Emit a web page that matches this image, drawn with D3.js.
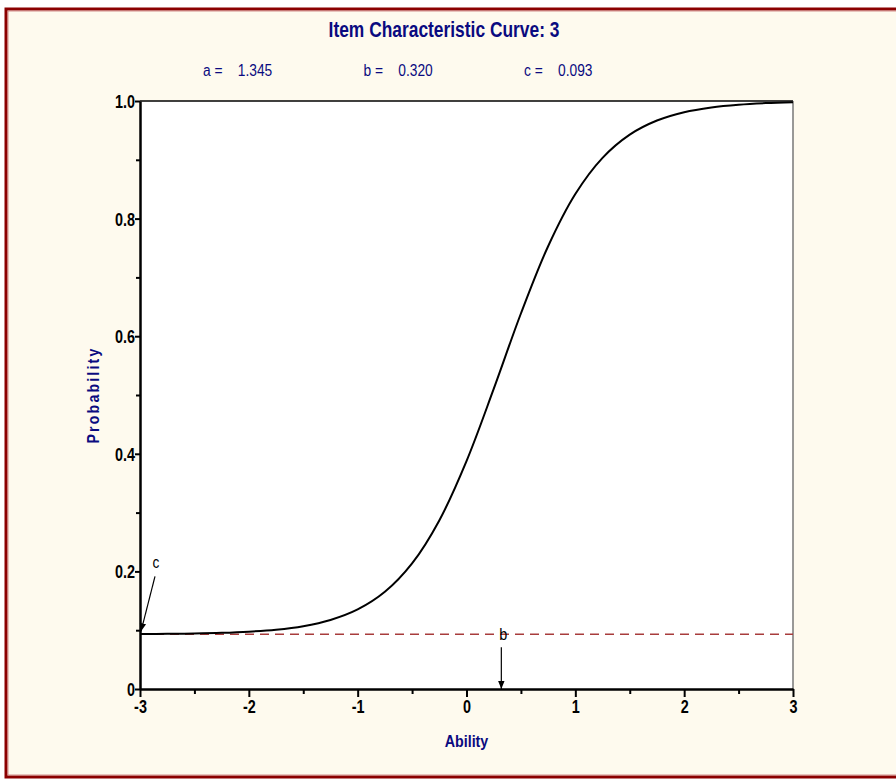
<!DOCTYPE html>
<html>
<head>
<meta charset="utf-8">
<style>
    body { margin: 0; background: #fff; }
    text { font-family: "Liberation Sans Narrow", "Arial Narrow", "Liberation Sans", sans-serif; }
    .tick-label { font-weight: bold; font-size: 18px; fill: #000; }
    .navy { fill: #0a0a80; }
</style>
<script src="https://d3js.org/d3.v7.min.js"></script>
</head>
<body>
<svg width="896" height="780"></svg>
<script>

// item parameters shown in the subtitle
var paramNames = ["a", "b", "c"];
var paramValues = [1.345, 0.320, 0.093];

// ability points and probabilities
var ability = [-3, -2.75, -2.5, -2.25, -2, -1.75, -1.5, -1.25, -1, -0.75, -0.5, -0.25,
               0, 0.25, 0.5, 0.75, 1, 1.25, 1.5, 1.75, 2, 2.25, 2.5, 2.75, 3];
var probability = [0.0935, 0.0938, 0.0944, 0.0955, 0.0975, 0.1009, 0.1069, 0.1174, 0.1353, 0.1653, 0.2136, 0.2867,
                   0.3876, 0.5103, 0.6386, 0.7530, 0.8418, 0.9033, 0.9428, 0.9668, 0.9810, 0.9891, 0.9938, 0.9965, 0.9980];

var xTicks = [-3, -2, -1, 0, 1, 2, 3];
var xMinor = [-2.5, -1.5, -0.5, 0.5, 1.5, 2.5];
var yTicks = [0, 0.2, 0.4, 0.6, 0.8, 1.0];
var yMinor = [0.1, 0.3, 0.5, 0.7, 0.9];
var yTickLabels = ["0", "0.2", "0.4", "0.6", "0.8", "1.0"];

var svg = d3.select("svg");

// no narrow font installed, so squeeze the text to look like one
function narrow(sel, f) {
    sel.each(function() {
        var len = this.getComputedTextLength();
        d3.select(this).attr("textLength", len * f).attr("lengthAdjust", "spacingAndGlyphs");
    });
}

// frame
svg.append("rect").attr("x", 0).attr("y", 0).attr("width", 896).attr("height", 780).attr("fill", "#fff");
svg.append("rect").attr("x", 6).attr("y", 9).attr("width", 900).attr("height", 768)
    .attr("fill", "#fefaee").attr("stroke", "#8b0000").attr("stroke-width", 3);
svg.append("rect").attr("x", 8).attr("y", 11).attr("width", 900).attr("height", 764)
    .attr("fill", "none").attr("stroke", "#c87070").attr("stroke-width", 0.8);

var margin = {top: 101, left: 140},
    width = 653, height = 588;

var x = d3.scaleLinear().domain([-3, 3]).range([0, width]),
    y = d3.scaleLinear().domain([0, 1]).range([height, 0]);

var g = svg.append("g").attr("transform", "translate(" + margin.left + "," + margin.top + ")");

// plot area
g.append("rect").attr("width", width).attr("height", height).attr("fill", "#fff");
g.append("line").attr("x1", 0).attr("x2", width).attr("y1", 0).attr("y2", 0)
    .attr("stroke", "#000").attr("stroke-width", 1.5);
g.append("line").attr("x1", width).attr("x2", width).attr("y1", 0).attr("y2", height)
    .attr("stroke", "#777").attr("stroke-width", 1.5);

// title and parameters
svg.append("text").attr("class", "navy").attr("x", 444).attr("y", 37)
    .attr("text-anchor", "middle").attr("font-weight", "bold").attr("font-size", 22)
    .text("Item Characteristic Curve: 3")
    .call(narrow, 0.79);

var paramX = d3.scalePoint().domain(paramNames).range([203, 524]);
svg.selectAll(".param")
  .data(paramNames)
  .enter().append("text")
    .attr("class", "param navy")
    .attr("x", function(d) { return paramX(d); })
    .attr("y", 76)
    .attr("font-size", 16)
    .attr("xml:space", "preserve")
    .text(function(d, i) { return d + " =    " + paramValues[i].toFixed(3); })
    .call(narrow, 0.86);

// x axis
g.append("g")
    .attr("transform", "translate(0," + height + ")")
    .call(d3.axisBottom(x).tickValues(xMinor).tickSize(5).tickFormat(""))
    .call(function(s) { s.select(".domain").remove(); s.selectAll("line").attr("stroke-width", 2); });
var xAxis = g.append("g")
    .attr("transform", "translate(0," + height + ")")
    .call(d3.axisBottom(x).tickValues(xTicks).tickSize(8).tickSizeOuter(0).tickFormat(d3.format("d")));
xAxis.select(".domain").attr("stroke-width", 2.5);
xAxis.selectAll("line").attr("stroke-width", 2);
xAxis.selectAll("text").attr("class", "tick-label").attr("dy", "0.9em").attr("y", 8)
    .text(function(d) { return d < 0 ? "-" + Math.abs(d) : d; })
    .call(narrow, 0.8);

// y axis
g.append("g")
    .call(d3.axisLeft(y).tickValues(yMinor).tickSize(4).tickFormat(""))
    .call(function(s) { s.select(".domain").remove(); s.selectAll("line").attr("stroke-width", 2); });
var yAxis = g.append("g")
    .call(d3.axisLeft(y).tickValues(yTicks).tickSize(5).tickSizeOuter(0)
        .tickFormat(function(d, i) { return yTickLabels[i]; }));
yAxis.select(".domain").attr("stroke-width", 2.5);
yAxis.selectAll("line").attr("stroke-width", 2);
yAxis.selectAll("text").attr("class", "tick-label").attr("x", -5).attr("dy", "0.36em")
    .call(narrow, 0.8);

// axis titles
svg.append("text").attr("class", "navy").attr("x", margin.left + x(0)).attr("y", 747)
    .attr("text-anchor", "middle").attr("font-weight", "bold").attr("font-size", 17)
    .text("Ability")
    .call(narrow, 0.84);
svg.append("text").attr("class", "navy")
    .attr("transform", "translate(99," + (margin.top + y(0.5)) + ") rotate(-90)")
    .attr("text-anchor", "middle").attr("font-weight", "bold").attr("font-size", 16)
    .attr("letter-spacing", 2.5)
    .text("Probability")
    .call(narrow, 0.88);

// lower asymptote
var c = paramValues[2], b = paramValues[1];
g.append("line")
    .attr("x1", 0).attr("x2", width)
    .attr("y1", y(c)).attr("y2", y(c))
    .attr("stroke", "#a83c3c").attr("stroke-width", 1.5)
    .attr("stroke-dasharray", "9,6");

// curve
var pts = ability.map(function(d, i) { return [d, probability[i]]; });
g.append("path")
    .datum(pts)
    .attr("fill", "none")
    .attr("stroke", "#000")
    .attr("stroke-width", 2)
    .attr("d", d3.line()
        .x(function(d) { return x(d[0]); })
        .y(function(d) { return y(d[1]); })
        .curve(d3.curveCatmullRom));

// arrow markers
var defs = svg.append("defs");
defs.append("marker").attr("id", "arrow").attr("viewBox", "0 0 10 10")
    .attr("refX", 10).attr("refY", 5).attr("markerWidth", 8).attr("markerHeight", 8)
    .attr("markerUnits", "userSpaceOnUse").attr("orient", "auto")
  .append("path").attr("d", "M0,1 L10,5 L0,9 Z").attr("fill", "#000");

// c annotation
g.append("line")
    .attr("x1", x(-3) + 15).attr("y1", y(c) - 58)
    .attr("x2", x(-3) + 1).attr("y2", y(c) - 3)
    .attr("stroke", "#000").attr("stroke-width", 1.2)
    .attr("marker-end", "url(#arrow)");
g.append("text").attr("x", x(-3) + 16).attr("y", y(c) - 66)
    .attr("text-anchor", "middle").attr("font-size", 16).attr("fill", "#000")
    .text("c")
    .call(narrow, 0.85);

// b annotation
g.append("text").attr("x", x(b) + 2).attr("y", y(c) + 6)
    .attr("text-anchor", "middle").attr("font-size", 17).attr("fill", "#000")
    .text("b")
    .call(narrow, 0.85);
g.append("line")
    .attr("x1", x(b)).attr("y1", y(c) + 13)
    .attr("x2", x(b)).attr("y2", height)
    .attr("stroke", "#000").attr("stroke-width", 1.2)
    .attr("marker-end", "url(#arrow)");

</script>
</body>
</html>
